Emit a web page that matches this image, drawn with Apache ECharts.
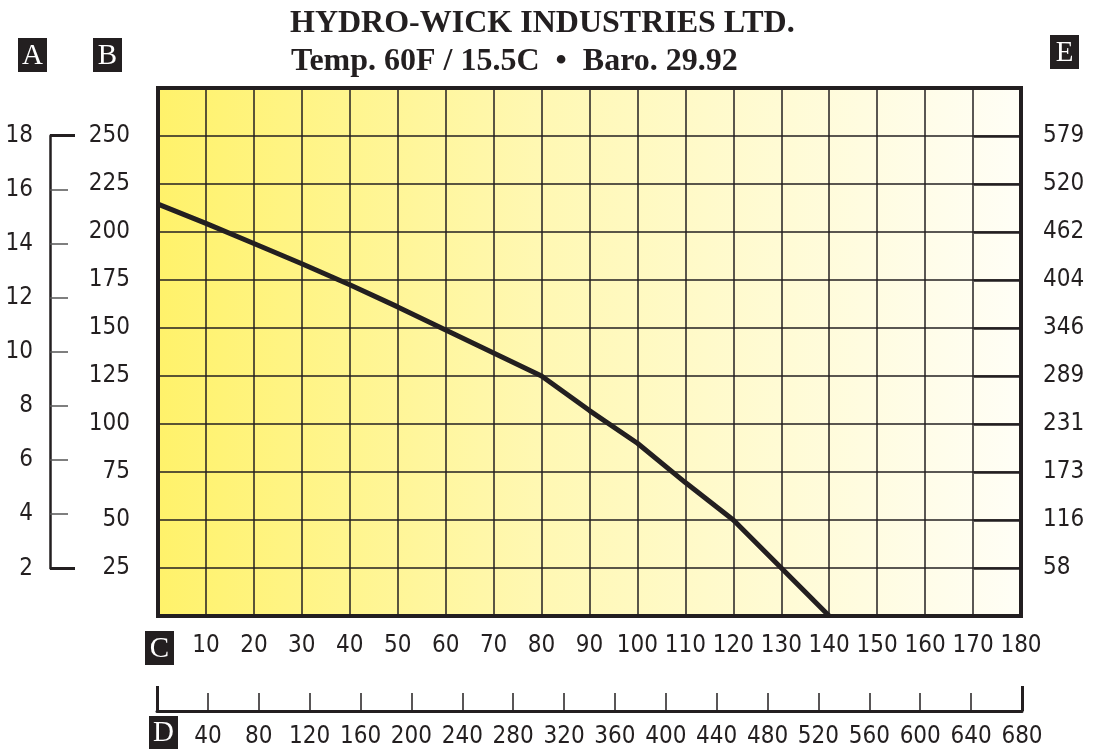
<!DOCTYPE html>
<html>
<head>
<meta charset="utf-8">
<script src="https://cdn.jsdelivr.net/npm/echarts@6/dist/echarts.min.js"></script>
<style>
  html, body { margin: 0; padding: 0; background: #fff; }
  #chart { width: 1114px; height: 749px; }
</style>
</head>
<body>
<div id="chart"></div>
<script>
(function() {
	'use strict';

	// flow curve (C scale vs B scale)
	var flowC = [0, 10, 20, 30, 40, 50, 60, 70, 80, 90, 100, 110, 120, 130, 140];
	var headB = [214.5, 204.5, 194, 183.5, 172.5, 161, 149, 137, 125, 107, 90, 69.5, 50, 25, 0];

	// right hand scale (E) labels, one for each B tick 25..250
	var eLabels = ['58', '116', '173', '231', '289', '346', '404', '462', '520', '579'];

	var ink = '#231f20';
	var numFont = "'DejaVu Sans Condensed', 'Liberation Sans Narrow', sans-serif";
	var numSize = 24;
	var serif = "'Liberation Serif', 'DejaVu Serif', serif";

	var points = flowC.map(function(c, i) { return [c, headB[i]]; });

	function letterBox(ch, x, y, w, h) {
		return {
			type: 'group',
			left: x,
			top: y,
			children: [
				{ type: 'rect', shape: { x: 0, y: 0, width: w, height: h }, style: { fill: ink } },
				{
					type: 'text',
					x: w / 2,
					y: h / 2 + 1,
					style: { text: ch, fill: '#fff', font: '29px ' + serif, align: 'center', verticalAlign: 'middle' }
				}
			]
		};
	}

	var option = {
		animation: false,
		title: [
			{
				text: 'HYDRO-WICK INDUSTRIES LTD.',
				left: 290,
				top: 8,
				padding: 0,
				textStyle: { fontFamily: serif, fontWeight: 'bold', fontSize: 32, color: ink }
			},
			{
				text: 'Temp. 60F / 15.5C  \u2022  Baro. 29.92',
				left: 291,
				top: 46,
				padding: 0,
				textStyle: { fontFamily: serif, fontWeight: 'bold', fontSize: 32, color: ink }
			}
		],
		grid: [
			{
				left: 158, right: 93, top: 88, height: 528,
				show: true,
				borderWidth: 4,
				borderColor: ink,
				backgroundColor: new echarts.graphic.LinearGradient(0, 0, 1, 0, [
					{ offset: 0, color: '#fff26a' },
					{ offset: 0.45, color: '#fff8b4' },
					{ offset: 1, color: '#fffef6' }
				])
			},
			{ left: 50, width: 30, top: 135.7, height: 432.6 },
			{ left: 157, right: 92, top: 688, height: 25 }
		],
		xAxis: [
			{
				gridIndex: 0,
				type: 'value',
				min: 0, max: 180, interval: 10,
				axisLine: { show: false },
				axisTick: { show: false },
				splitLine: { show: true, lineStyle: { color: ink, width: 1.5 } },
				axisLabel: {
					showMinLabel: false,
					margin: 18,
					fontSize: numSize,
					fontFamily: numFont,
					color: ink
				}
			},
			{
				gridIndex: 1, type: 'value', min: 0, max: 1, show: false
			},
			{
				gridIndex: 2,
				type: 'value',
				min: 0, max: 680, interval: 40,
				axisLine: { show: true, lineStyle: { color: ink, width: 3 } },
				axisTick: { show: true, inside: true, length: 18, lineStyle: { color: ink, width: 1.5 } },
				splitLine: { show: false },
				axisLabel: {
					showMinLabel: false,
					margin: 14,
					fontSize: numSize,
					fontFamily: numFont,
					color: ink
				}
			},
			{
				gridIndex: 2,
				type: 'value',
				min: 0, max: 680, interval: 680,
				position: 'bottom',
				axisLine: { show: false },
				axisTick: { show: true, inside: true, length: 25, lineStyle: { color: ink, width: 3 } },
				splitLine: { show: false },
				axisLabel: { show: false }
			}
		],
		yAxis: [
			{
				gridIndex: 0,
				type: 'value',
				position: 'left',
				min: 0, max: 275, interval: 25,
				axisLine: { show: false },
				axisTick: { show: false },
				splitLine: { show: true, lineStyle: { color: ink, width: 1.5 } },
				axisLabel: {
					showMinLabel: false,
					showMaxLabel: false,
					margin: 28,
					fontSize: numSize,
					fontFamily: numFont,
					color: ink
				}
			},
			{
				gridIndex: 0,
				type: 'value',
				position: 'right',
				min: 0, max: 275, interval: 25,
				axisLine: { show: false },
				axisTick: { show: true, inside: true, length: 47, lineStyle: { color: ink, width: 2.5 } },
				splitLine: { show: false },
				axisLabel: {
					showMinLabel: false,
					showMaxLabel: false,
					margin: 22,
					fontSize: numSize,
					fontFamily: numFont,
					color: ink,
					formatter: function(v) { return eLabels[Math.round(v / 25) - 1] || ''; }
				}
			},
			{
				gridIndex: 1,
				type: 'value',
				position: 'left',
				min: 2, max: 18, interval: 2,
				axisLine: { show: true, lineStyle: { color: ink, width: 2.5 } },
				axisTick: { show: true, inside: true, length: 18, lineStyle: { color: '#555', width: 1.5 } },
				splitLine: { show: false },
				axisLabel: {
					margin: 17,
					fontSize: numSize,
					fontFamily: numFont,
					color: ink
				}
			},
			{
				gridIndex: 1,
				type: 'value',
				position: 'left',
				min: 2, max: 18, interval: 16,
				axisLine: { show: false },
				axisTick: { show: true, inside: true, length: 25, lineStyle: { color: ink, width: 3 } },
				splitLine: { show: false },
				axisLabel: { show: false }
			},
			{
				gridIndex: 2, type: 'value', min: 0, max: 1, show: false
			}
		],
		graphic: [
			letterBox('A', 18, 38, 29, 34),
			letterBox('B', 93, 38, 29, 34),
			letterBox('E', 1050, 35, 29, 34),
			letterBox('C', 145, 631, 29, 34),
			letterBox('D', 149, 716, 29, 33)
		],
		series: [
			{
				type: 'line',
				xAxisIndex: 0,
				yAxisIndex: 0,
				data: points,
				symbol: 'none',
				smooth: false,
				lineStyle: { color: ink, width: 5 },
				z: 5
			}
		]
	};

	var chart = echarts.init(document.getElementById('chart'));
	chart.setOption(option);
})();
</script>
</body>
</html>
